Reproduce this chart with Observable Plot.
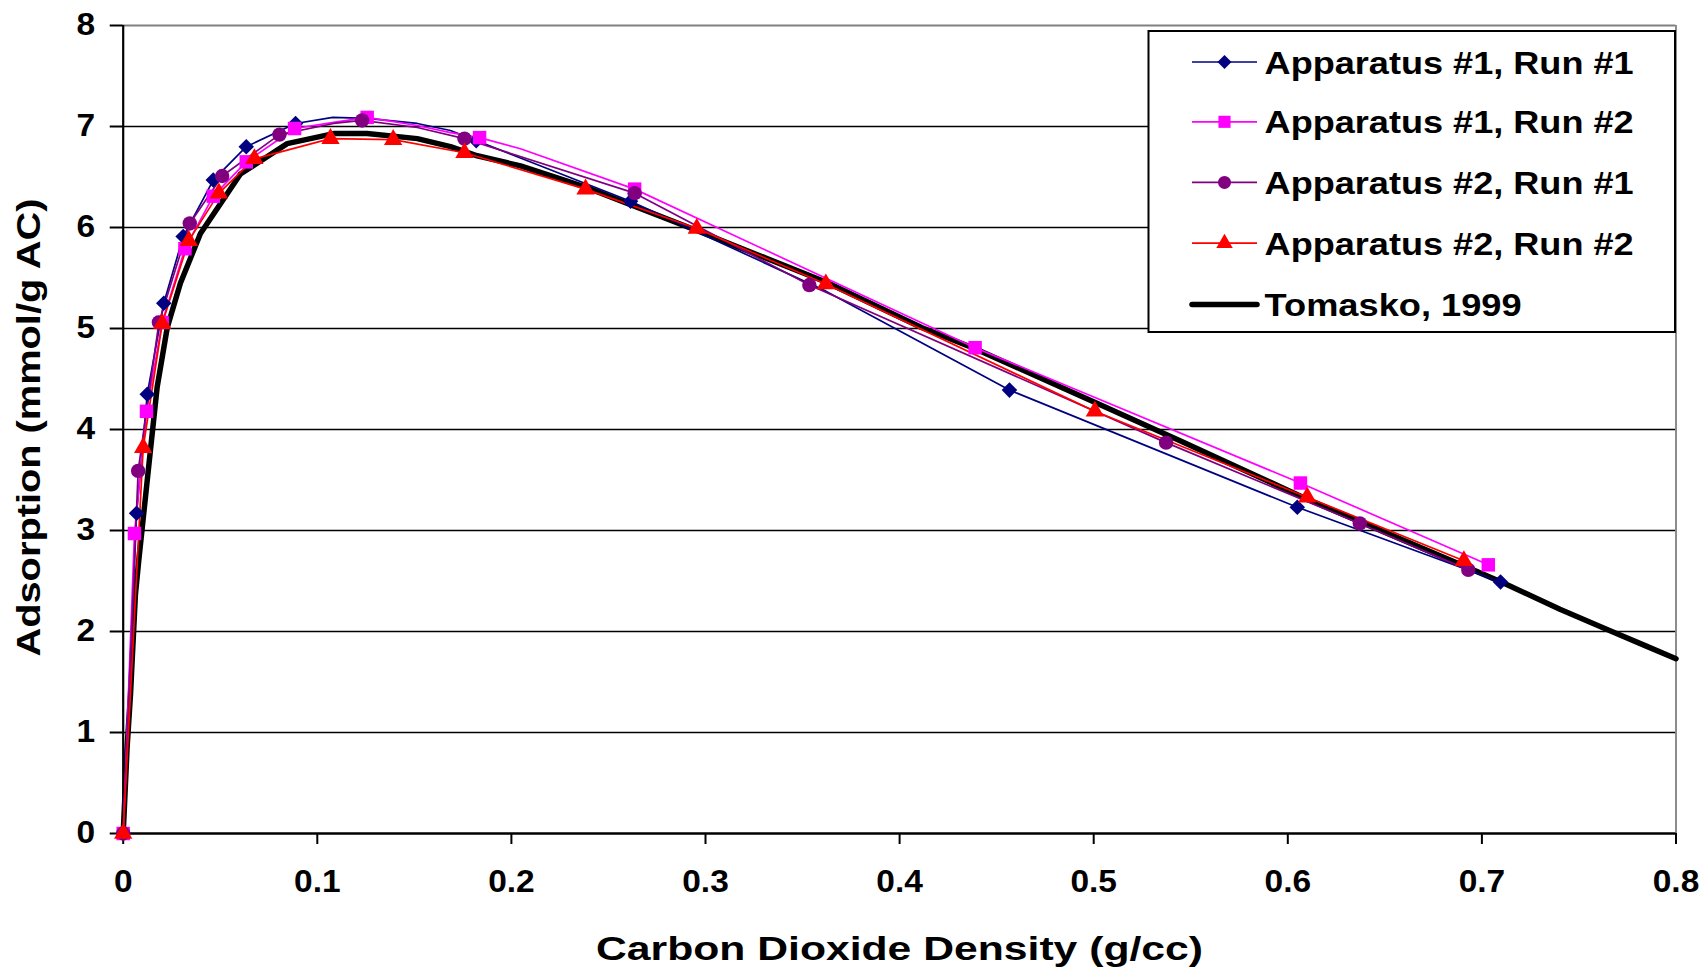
<!DOCTYPE html>
<html>
<head>
<meta charset="utf-8">
<script src="https://cdn.jsdelivr.net/npm/d3@7"></script>
<script src="https://cdn.jsdelivr.net/npm/@observablehq/plot@0.6"></script>
<style>
html, body { margin: 0; padding: 0; background: #fff; }
#chart svg { display: block; }
</style>
</head>
<body>
<div id="chart"></div>
<script>
// ---------- tick labels / names ----------
const xTicks = [0, 0.1, 0.2, 0.3, 0.4, 0.5, 0.6, 0.7, 0.8];
const xTickLabels = ["0", "0.1", "0.2", "0.3", "0.4", "0.5", "0.6", "0.7", "0.8"];
const yTicks = [0, 1, 2, 3, 4, 5, 6, 7, 8];
const yTickLabels = ["0", "1", "2", "3", "4", "5", "6", "7", "8"];
const xTitle = "Carbon Dioxide Density (g/cc)";
const yTitle = "Adsorption (mmol/g AC)";
const seriesNames = ["Apparatus #1, Run #1", "Apparatus #1, Run #2", "Apparatus #2, Run #1", "Apparatus #2, Run #2", "Tomasko, 1999"];
const seriesColors = ["#000080", "#FF00FF", "#800080", "#FF0000", "#000000"];
const seriesSymbols = ["diamond2", "square", "circle", "triangle", null];

// ---------- Apparatus #1, Run #1 ----------
const a1r1MarkerX = [0, 0.0069, 0.0124, 0.0209, 0.0309, 0.0464, 0.0634, 0.0888, 0.1819, 0.2614, 0.4566, 0.6049, 0.7096];
const a1r1MarkerY = [0, 3.17, 4.35, 5.25, 5.91, 6.47, 6.80, 7.03, 6.86, 6.26, 4.39, 3.23, 2.49];
const a1r1ExtraX = [0.108, 0.1257, 0.1515, 0.1686, 0.362];
const a1r1ExtraY = [7.09, 7.08, 7.03, 6.96, 5.37];

// ---------- Apparatus #1, Run #2 ----------
const a1r2MarkerX = [0, 0.0058, 0.012, 0.0201, 0.0318, 0.0464, 0.0634, 0.0883, 0.1257, 0.1836, 0.2635, 0.4389, 0.6065, 0.7033];
const a1r2MarkerY = [0, 2.97, 4.18, 5.06, 5.79, 6.31, 6.65, 6.98, 7.09, 6.89, 6.38, 4.81, 3.47, 2.66];
const a1r2ExtraX = [0.1084, 0.1515, 0.1686, 0.2047];
const a1r2ExtraY = [7.04, 7.01, 6.94, 6.78];

// ---------- Apparatus #2, Run #1 ----------
const a2r1MarkerX = [0, 0.0077, 0.0184, 0.0343, 0.051, 0.0805, 0.1231, 0.1758, 0.2635, 0.3535, 0.5373, 0.6371, 0.693];
const a2r1MarkerY = [0, 3.59, 5.06, 6.04, 6.51, 6.92, 7.06, 6.88, 6.34, 5.43, 3.87, 3.07, 2.61];
const a2r1ExtraX = [0.1084, 0.1515];
const a2r1ExtraY = [7.03, 6.99];

// ---------- Apparatus #2, Run #2 ----------
const a2r2MarkerX = [0, 0.0103, 0.0201, 0.0338, 0.0493, 0.0676, 0.1068, 0.1391, 0.1758, 0.2382, 0.2955, 0.362, 0.5006, 0.61, 0.6907];
const a2r2MarkerY = [0, 3.82, 5.05, 5.87, 6.34, 6.68, 6.88, 6.87, 6.74, 6.38, 5.99, 5.44, 4.18, 3.33, 2.70];
const a2r2ExtraX = [];
const a2r2ExtraY = [];

// ---------- Tomasko, 1999 ----------
const tomaskoX = [0, 0.002, 0.0038, 0.0046, 0.0063, 0.008, 0.0124, 0.0175, 0.0227, 0.0295, 0.0398, 0.0604, 0.0845, 0.1084, 0.1256, 0.1515, 0.1686, 0.1824, 0.2047, 0.2382, 0.2955, 0.362, 0.4113, 0.4389, 0.5005, 0.5442, 0.61, 0.6918, 0.71, 0.7402, 0.7633, 0.7841, 0.80];
const tomaskoY = [0, 0.85, 1.39, 1.71, 2.37, 2.70, 3.50, 4.42, 5.01, 5.45, 5.94, 6.53, 6.83, 6.93, 6.93, 6.88, 6.80, 6.71, 6.61, 6.40, 5.97, 5.46, 5.01, 4.80, 4.27, 3.89, 3.31, 2.64, 2.49, 2.22, 2.03, 1.86, 1.73];

// ---------- build tables ----------
const zip = (xs, ys) => xs.map((x, i) => ({x, y: ys[i]}));
const lineOf = (mx, my, ex, ey) => zip(mx, my).concat(zip(ex, ey)).sort((a, b) => a.x - b.x);

const series = [
  {markers: zip(a1r1MarkerX, a1r1MarkerY), line: lineOf(a1r1MarkerX, a1r1MarkerY, a1r1ExtraX, a1r1ExtraY)},
  {markers: zip(a1r2MarkerX, a1r2MarkerY), line: lineOf(a1r2MarkerX, a1r2MarkerY, a1r2ExtraX, a1r2ExtraY)},
  {markers: zip(a2r1MarkerX, a2r1MarkerY), line: lineOf(a2r1MarkerX, a2r1MarkerY, a2r1ExtraX, a2r1ExtraY)},
  {markers: zip(a2r2MarkerX, a2r2MarkerY), line: lineOf(a2r2MarkerX, a2r2MarkerY, a2r2ExtraX, a2r2ExtraY)}
];
const tomasko = zip(tomaskoX, tomaskoY);

const markerR = [7, 7.6, 7.2, 6.8];

const FONT = "'Liberation Sans', Arial, Helvetica, sans-serif";

const plot = Plot.plot({
  width: 1702,
  height: 969,
  marginLeft: 122.7,
  marginRight: 26.5,
  marginTop: 25,
  marginBottom: 136,
  style: {fontFamily: FONT, fontWeight: "bold", background: "#fff", color: "#000", overflow: "visible"},
  x: {domain: [0, 0.8]},
  y: {domain: [0, 8]},
  marks: [
    Plot.gridY(yTicks.slice(1, -1), {stroke: "#000", strokeOpacity: 1, strokeWidth: 1.3}),
    Plot.ruleY([yTicks[yTicks.length - 1]], {stroke: "#808080", strokeWidth: 1.8}),
    Plot.ruleX([xTicks[xTicks.length - 1]], {stroke: "#808080", strokeWidth: 1.8}),
    Plot.axisX(xTicks, {
      tickSize: 11, tickPadding: 25,
      tickFormat: (d, i) => xTickLabels[i],
      fontSize: 31, fontWeight: "bold", label: null, stroke: "#000", strokeWidth: 2
    }),
    Plot.axisY(yTicks, {
      tickSize: 13, tickPadding: 15,
      tickFormat: (d, i) => yTickLabels[i],
      fontSize: 31, fontWeight: "bold", label: null, stroke: "#000", strokeWidth: 2
    }),
    Plot.ruleX([0], {stroke: "#000", strokeWidth: 2.2}),
    Plot.ruleY([0], {stroke: "#000", strokeWidth: 2.7}),
    Plot.line(tomasko, {x: "x", y: "y", stroke: seriesColors[4], strokeWidth: 5.5, strokeLinejoin: "round", strokeLinecap: "round"}),
    ...series.map((s, i) => Plot.line(s.line, {x: "x", y: "y", stroke: seriesColors[i], strokeWidth: 1.7})),
    ...series.map((s, i) => Plot.dot(s.markers, {x: "x", y: "y", symbol: seriesSymbols[i], fill: seriesColors[i], stroke: "none", r: markerR[i]}))
  ]
});

document.getElementById("chart").appendChild(plot);

// ---------- titles and legend (layout only) ----------
const svg = d3.select(plot);

function stretch(sel, width) {
  sel.attr("textLength", width).attr("lengthAdjust", "spacingAndGlyphs");
}

// widen tick labels slightly, like the reference
svg.selectAll('g[aria-label="x-axis tick label"] text, g[aria-label="y-axis tick label"] text').each(function() {
  const w = this.getComputedTextLength();
  if (w > 0) stretch(d3.select(this), w * 1.08);
});

const xt = svg.append("text")
  .attr("x", 596).attr("y", 960)
  .attr("text-anchor", "start")
  .attr("font-family", FONT).attr("font-weight", "bold").attr("font-size", 33)
  .attr("fill", "#000")
  .text(xTitle);
stretch(xt, 607);

const yt = svg.append("text")
  .attr("transform", "translate(40,656.5) rotate(-90)")
  .attr("text-anchor", "start")
  .attr("font-family", FONT).attr("font-weight", "bold").attr("font-size", 33)
  .attr("fill", "#000")
  .text(yTitle);
stretch(yt, 458);

const lg = svg.append("g");
lg.append("rect")
  .attr("x", 1148.5).attr("y", 31).attr("width", 526.5).attr("height", 301)
  .attr("fill", "#fff").attr("stroke", "#000").attr("stroke-width", 2);

const symMap = {diamond2: d3.symbolDiamond2, square: d3.symbolSquare, circle: d3.symbolCircle, triangle: d3.symbolTriangle};
const legendRowY = [62, 121.8, 182.4, 243.2, 304.5];
const legendTextWidth = [369, 369, 369, 369, 257];
seriesNames.forEach((name, i) => {
  const cy = legendRowY[i];
  lg.append("line")
    .attr("x1", 1192).attr("x2", 1257).attr("y1", cy).attr("y2", cy)
    .attr("stroke", seriesColors[i]).attr("stroke-width", i === 4 ? 5.5 : 1.7)
    .attr("stroke-linecap", i === 4 ? "round" : "butt");
  if (seriesSymbols[i]) {
    const r = markerR[i] * 0.9;
    lg.append("path")
      .attr("transform", `translate(1224.5,${cy})`)
      .attr("d", d3.symbol(symMap[seriesSymbols[i]], Math.PI * r * r)())
      .attr("fill", seriesColors[i]);
  }
  const t = lg.append("text")
    .attr("x", 1264.6).attr("y", cy + 11.5)
    .attr("text-anchor", "start")
    .attr("font-family", FONT).attr("font-weight", "bold").attr("font-size", 32)
    .attr("fill", "#000")
    .text(name);
  stretch(t, legendTextWidth[i]);
});
</script>
</body>
</html>
